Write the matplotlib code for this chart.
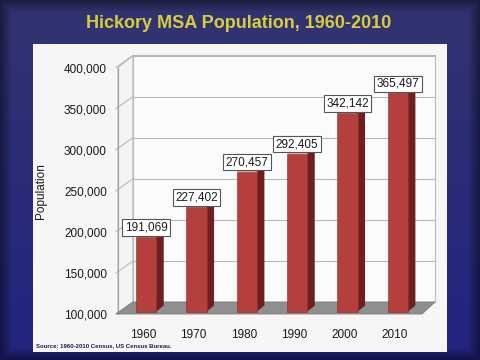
import matplotlib
matplotlib.use("Agg")
import matplotlib.pyplot as plt
from matplotlib.patches import Rectangle, Polygon
import numpy as np

plt.rcParams['font.family'] = ['Liberation Sans', 'DejaVu Sans']

# data
years = ["1960", "1970", "1980", "1990", "2000", "2010"]
population = [191069, 227402, 270457, 292405, 342142, 365497]
yticks = [100000, 150000, 200000, 250000, 300000, 350000, 400000]

title = "Hickory MSA Population, 1960-2010"
source = "Source: 1960-2010 Census, US Census Bureau."

fig = plt.figure(figsize=(4.8, 3.6), dpi=100)

# blue slide background, darker towards the edges
bg = fig.add_axes([0, 0, 1, 1], zorder=-10)
gy, gx = np.mgrid[0:1:360j, 0:1:480j]
c_top = np.array([50, 52, 112]) / 255
c_bot = np.array([34, 36, 128]) / 255
img = c_top[None, None, :] * (1 - gy[..., None]) + c_bot[None, None, :] * gy[..., None]
edge = np.minimum.reduce([gx * 480, (1 - gx) * 480, gy * 360, (1 - gy) * 360])
shade = 0.55 + 0.45 * np.clip(edge / 12, 0, 1)
img = img * shade[..., None]
bg.imshow(img, aspect="auto", extent=[0, 1, 0, 1], origin="upper")
bg.axis("off")

# white panel
fig.patches.append(Rectangle((33 / 480, 1 - 352 / 360), 414 / 480, 308 / 360,
                             transform=fig.transFigure, fc="#f7f6f4", ec="none", zorder=-5))

fig.text(0.497, 1 - 23 / 360, title, ha="center", va="center",
         color="#d8cc3c", fontsize=13, fontweight="bold")
fig.text(36 / 480, 1 - 346 / 360, source, ha="left", va="center",
         color="#1a2050", fontsize=4.3, fontweight="bold")

# front plane of the 3d chart
ax = fig.add_axes([118 / 480, 46 / 360, 302 / 480, 246.5 / 360])
ax.set_facecolor("none")
ax.set_xlim(-0.5, 5.5)
ax.set_ylim(100000, 400000)

n = len(years)
dx = 15 / 302 * n          # depth offset (x, data units)
dy = 12 / 246.5 * 300000   # depth offset (y, data units)
x0, x1 = -0.5, n - 0.5
ymin, ymax = yticks[0], yticks[-1]
grid_c = "#b8b8b8"

# back wall and left wall
ax.add_patch(Rectangle((x0 + dx, ymin + dy), x1 - x0, ymax - ymin,
                       fc="#fbfbfb", ec=grid_c, lw=0.8, clip_on=False, zorder=1))
ax.add_patch(Polygon([(x0, ymin), (x0 + dx, ymin + dy), (x0 + dx, ymax + dy), (x0, ymax)],
                     fc="#f4f4f4", ec=grid_c, lw=0.8, clip_on=False, zorder=1))
for t in yticks:
    ax.plot([x0 + dx, x1 + dx], [t + dy, t + dy], color=grid_c, lw=0.8, clip_on=False, zorder=2)
    ax.plot([x0 - 0.04, x0 + dx], [t, t + dy], color=grid_c, lw=0.8, clip_on=False, zorder=2)

# floor
ax.add_patch(Polygon([(x0 - 0.04, ymin), (x1 + 0.04, ymin), (x1 + dx, ymin + dy), (x0 + dx, ymin + dy)],
                     fc="#8f8f8f", ec="#7a7a7a", lw=0.6, clip_on=False, zorder=3))

# 3d bars
w = 0.40
f = 0.2
b = 0.5
for i, v in enumerate(population):
    xl = i - w / 2 + f * dx
    xr = i + w / 2 + f * dx
    base = ymin + f * dy
    top = v + f * dy
    ax.add_patch(Polygon([(xr, base), (xr + b * dx, base + b * dy), (xr + b * dx, top + b * dy), (xr, top)],
                         fc="#6e1f1f", ec="none", clip_on=False, zorder=4))
    ax.add_patch(Polygon([(xl, top), (xr, top), (xr + b * dx, top + b * dy), (xl + b * dx, top + b * dy)],
                         fc="#c25a58", ec="none", clip_on=False, zorder=4))
    ax.add_patch(Rectangle((xl, base), w, v - ymin, fc="#b43f3c", ec="#8a2a28", lw=0.4,
                           clip_on=False, zorder=5))
    ax.annotate(f"{v:,}", (i + f * dx, top), xytext=(0, 2.5), textcoords="offset points",
                ha="center", va="bottom", fontsize=8.5, color="#1a1a1a", zorder=6,
                bbox=dict(boxstyle="square,pad=0.2", fc="white", ec="#555555", lw=0.8))

ax.set_yticks(yticks)
ax.set_yticklabels([f"{t:,}" for t in yticks])
ax.set_xticks(range(n))
ax.set_xticklabels(years)
ax.tick_params(axis="y", length=0, pad=8, labelsize=8.5, labelcolor="#1a1a1a")
ax.tick_params(axis="x", length=0, pad=11, labelsize=8.5, labelcolor="#1a1a1a")
for s in ["top", "right", "bottom"]:
    ax.spines[s].set_visible(False)
ax.spines["left"].set_color("#a0a0a0")
ax.spines["left"].set_linewidth(0.8)
ax.set_ylabel("Population", fontsize=8.5, color="#1a1a1a")
ax.yaxis.set_label_coords(-0.235, 0.5)

fig.savefig("out.png", dpi=100)
